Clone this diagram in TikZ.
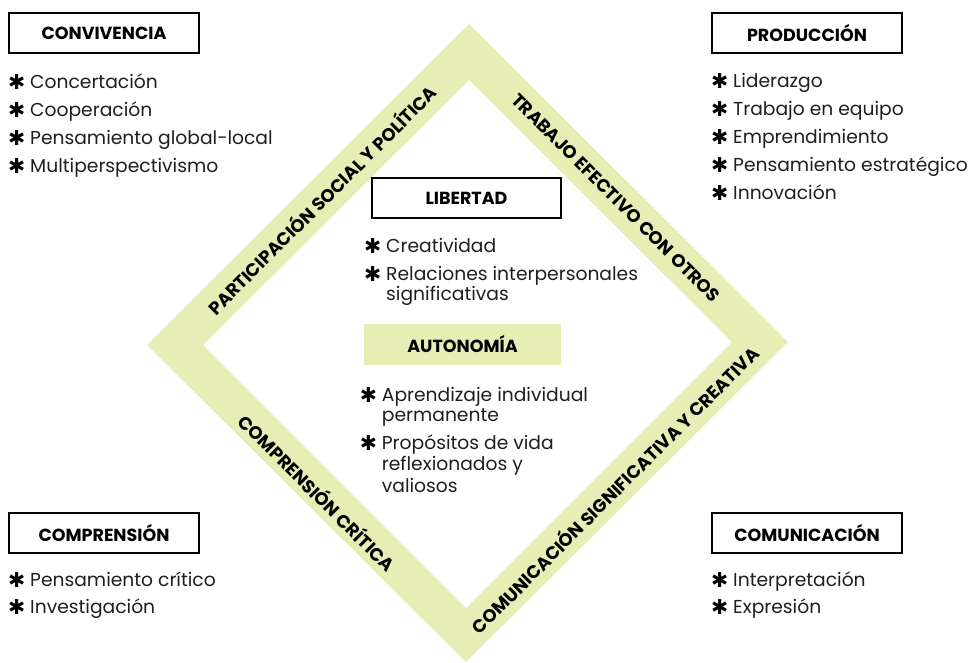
\documentclass[tikz,border=0pt]{standalone}
\usepackage{fontspec}
\setmainfont{Poppins}
\newfontfamily\symf{DejaVu Sans}
\definecolor{bandc}{HTML}{E6EDB5}
\definecolor{txt}{HTML}{1E1E1E}
\newcommand{\bul}{\makebox[21pt][l]{\hspace*{-1pt}\raisebox{-1.2pt}{\symf\fontsize{20.5}{20}\selectfont\color{black}✱}}}
\begin{document}
\begin{tikzpicture}[x=1pt,y=-1pt,
  hdr/.style={draw=black, line width=1.6pt, minimum width=190pt, minimum height=40pt, inner sep=0pt, font=\fontsize{17.5}{20}\selectfont\bfseries},
  filledhdr/.style={fill=bandc, minimum width=197pt, minimum height=41pt, inner sep=0pt, font=\fontsize{17.5}{20}\selectfont\bfseries},
  item/.style={anchor=base west, inner sep=0pt, font=\fontsize{18.7}{22}\selectfont, text=txt},
  bandlbl/.style={font=\fontsize{18}{20}\selectfont\bfseries, inner sep=0pt, anchor=center}]
\useasboundingbox (0,0) rectangle (972,662);
% diamond band
\fill[bandc, even odd rule] (469,24) -- (788,342) -- (466,662) -- (147,345) -- cycle
  (469,80) -- (732,342) -- (466,608) -- (203,345) -- cycle;
% band labels
\node[bandlbl, rotate=45] (lUL) at (321,199) {PARTICIPACIÓN SOCIAL Y POLÍTICA};
\node[bandlbl, rotate=-45] (lUR) at (616,198) {TRABAJO EFECTIVO CON OTROS};
\node[bandlbl, rotate=-45] (lLL) at (318,492) {COMPRENSIÓN CRÍTICA};
\node[bandlbl, rotate=45] (lLR) at (614,489) {COMUNICACIÓN SIGNIFICATIVA Y CREATIVA};
% header boxes
\node[hdr] (conv) at (104,33) {CONVIVENCIA};
\node[hdr] (prod) at (807,33) {PRODUCCIÓN};
\node[hdr] (comp) at (104,533) {COMPRENSIÓN};
\node[hdr] (comu) at (807,533) {COMUNICACIÓN};
\node[hdr, minimum width=189pt] (lib) at (466.5,198) {LIBERTAD};
\node[filledhdr] (aut) at (462.5,344.5) {AUTONOMÍA};
% Convivencia
\node[item] (c1) at (9,88) {\bul Concertación};
\node[item] (c2) at (9,116.5) {\bul Cooperación};
\node[item] (c3) at (9,144.5) {\bul Pensamiento global-local};
\node[item] (c4) at (9,172.5) {\bul Multiperspectivismo};
% Produccion
\node[item] (p1) at (712,87) {\bul Liderazgo};
\node[item] (p2) at (712,115) {\bul Trabajo en equipo};
\node[item] (p3) at (712,143) {\bul Emprendimiento};
\node[item] (p4) at (712,171) {\bul Pensamiento estratégico};
\node[item] (p5) at (712,199) {\bul Innovación};
% Comprension
\node[item] (k1) at (9,586) {\bul Pensamiento crítico};
\node[item] (k2) at (9,613.5) {\bul Investigación};
% Comunicacion
\node[item] (m1) at (712,586) {\bul Interpretación};
\node[item] (m2) at (712,613.5) {\bul Expresión};
% Libertad
\node[item] (b1) at (365,252) {\bul Creatividad};
\node[item] (b2) at (365,280) {\bul Relaciones interpersonales};
\node[item] (b2b) at (386,300) {significativas};
% Autonomia
\node[item] (a1) at (360.7,401) {\bul Aprendizaje individual};
\node[item] (a1b) at (381.7,421) {permanente};
\node[item] (a2) at (360.7,449) {\bul Propósitos de vida};
\node[item] (a2b) at (381.7,470) {reflexionados y};
\node[item] (a2c) at (381.7,492) {valiosos};
\end{tikzpicture}
\end{document}
